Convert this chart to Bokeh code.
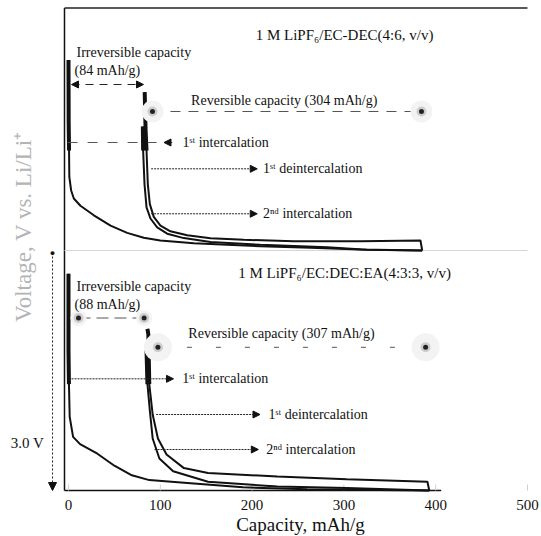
import numpy as np
from bokeh.plotting import figure
from bokeh.models import Range1d, Label, Arrow, NormalHead
from bokeh.core.properties import value
from bokeh.embed import file_html
from bokeh.resources import INLINE

# ---------------- data ----------------
x_ticks = [0, 100, 200, 300, 400, 500]
x_tick_labels = ["0", "100", "200", "300", "400", "500"]

# Panel A : 1 M LiPF6/EC-DEC (4:6, v/v)
a_title = "1 M LiPF\u2086/EC-DEC(4:6, v/v)"
a_int1_cap = [0, 0.2, 0.6, 0.9, 2.9, 5.8, 13, 27.6, 45.8, 63.9, 82, 100, 136.5, 172.9, 209, 263.6, 318, 385.3]
a_int1_v   = [2.38, 1.6, 1.25, 0.92, 0.75, 0.65, 0.56, 0.44, 0.31, 0.22, 0.16, 0.125, 0.092, 0.071, 0.054, 0.033, 0.013, 0.0]
a_deint1_cap = [83, 84, 85, 86.4, 88.6, 92.9, 100.2, 111, 129.3, 154.7, 191, 245.4, 318, 383.4, 385.3]
a_deint1_v   = [1.98, 1.5, 1.25, 0.83, 0.58, 0.42, 0.31, 0.24, 0.19, 0.154, 0.133, 0.117, 0.117, 0.125, 0.0]
a_int2_cap = [81, 81.3, 82.8, 85, 89.3, 96.6, 107.5, 125.6, 154.7, 209, 281.8, 325, 385.3]
a_int2_v   = [1.55, 1.25, 0.83, 0.54, 0.40, 0.29, 0.21, 0.155, 0.105, 0.071, 0.042, 0.008, 0.0]
a_irr = 84
a_rev = 304

# Panel B : 1 M LiPF6/EC:DEC:EA (4:3:3, v/v)
b_title = "1 M LiPF\u2086/EC:DEC:EA(4:3:3, v/v)"
b_int1_cap = [0, 0, 0.5, 1.3, 5, 12.6, 31.5, 50, 69, 88, 133, 190, 260, 393]
b_int1_v   = [2.71, 1.75, 1.33, 0.92, 0.67, 0.58, 0.46, 0.31, 0.19, 0.13, 0.09, 0.04, 0.015, 0.0]
b_deint1_cap = [86, 87, 88, 91.7, 97.4, 106.8, 125.7, 152, 227.5, 303, 391, 393]
b_deint1_v   = [2.02, 1.95, 1.33, 0.95, 0.65, 0.45, 0.28, 0.22, 0.175, 0.14, 0.11, 0.0]
b_int2_cap = [85, 86, 88.7, 91.7, 99, 114, 152, 227.5, 303, 393]
b_int2_v   = [1.75, 1.33, 0.99, 0.65, 0.40, 0.24, 0.11, 0.05, 0.03, 0.0]
b_irr = 88
b_rev = 307

# ---------------- layout constants ----------------
TOP = 3.0            # vertical offset of the upper panel (V)
X0 = -4.36           # where the left axis line sits (capacity units)
X_LINE_END = 406     # the drawn bottom axis line stops just past 400
Y_TOPLINE = 6.03
FONT = "Liberation Serif"
INK = "#111111"

# the frame fills the whole canvas: 541 px <-> 589.3 mAh/g, 536 px <-> 6.7 V
p = figure(width=541, height=536, output_backend="svg", toolbar_location=None,
           x_range=Range1d(-74.07, 515.25), y_range=Range1d(-0.575, 6.125),
           min_border=0, min_border_left=0, min_border_right=0,
           min_border_top=0, min_border_bottom=0)
p.outline_line_color = None
p.grid.visible = False
p.background_fill_color = "white"
p.border_fill_color = "white"
p.xaxis.visible = False
p.yaxis.visible = False

# axis lines, top border, panel separator
p.segment(x0=[X0], y0=[0], x1=[X0], y1=[Y_TOPLINE], line_color=INK, line_width=1.5)
p.segment(x0=[X0], y0=[0], x1=[X_LINE_END], y1=[0], line_color=INK, line_width=1.5)
p.segment(x0=[X0], y0=[Y_TOPLINE], x1=[x_ticks[-1]], y1=[Y_TOPLINE], line_color="#222222", line_width=1.5)
p.segment(x0=[X0], y0=[TOP], x1=[x_ticks[-1]], y1=[TOP], line_color="#d6d6d6", line_width=1)

# x ticks (faint, inward) and tick labels
p.segment(x0=x_ticks, y0=[0] * len(x_ticks), x1=x_ticks, y1=[0.075] * len(x_ticks),
          line_color="#cfcfcf", line_width=1)
p.text(x=x_ticks, y=[-0.175] * len(x_ticks), text=x_tick_labels,
       text_font=value(FONT), text_font_size="15px", text_color=INK,
       text_align="center", text_baseline="middle")


def curve(cap, v, off):
    cap = np.asarray(cap, float)
    v = np.asarray(v, float)
    p.line(cap, v + off, line_color=INK, line_width=2)
    m = v >= 1.2
    if m.sum() > 1:
        p.line(cap[m], v[m] + off, line_color=INK, line_width=4)


for (c, v) in [(a_int1_cap, a_int1_v), (a_deint1_cap, a_deint1_v), (a_int2_cap, a_int2_v)]:
    curve(c, v, TOP)
for (c, v) in [(b_int1_cap, b_int1_v), (b_deint1_cap, b_deint1_v), (b_int2_cap, b_int2_v)]:
    curve(c, v, 0.0)


def txt(x, y, s, size=14, align="left", baseline="middle", color=INK, angle=0.0):
    p.add_layout(Label(x=x, y=y, text=s, text_font=FONT, text_font_size=f"{size}px",
                       text_align=align, text_baseline=baseline, text_color=color,
                       angle=angle))


def arrow(x0, x1, y0, y1, dash, end=True, start=False, size=7, color="#222222", width=1):
    def head():
        return NormalHead(size=size, fill_color="#111111", line_color="#111111", line_width=1)
    p.add_layout(Arrow(x_start=x0, y_start=y0, x_end=x1, y_end=y1,
                       line_dash=dash, line_width=width, line_color=color,
                       end=head() if end else None, start=head() if start else None))


def blur_dot(xs, ys, halo=22):
    p.scatter(xs, ys, size=halo, fill_color="#f3f3f3", line_color=None)
    p.scatter(xs, ys, size=10, fill_color="#a0a0a0", fill_alpha=0.45, line_color=None)
    p.scatter(xs, ys, size=5, fill_color="#222222", line_color=None)


# ---------- panel A annotations ----------
txt(300.7, 5.69, a_title, size=15, align="center")
txt(8.7, 5.475, "Irreversible capacity")
txt(6.5, 5.25, f"({a_irr} mAh/g)")
arrow(3.3, 81.7, 5.075, 5.075, "8 6", end=True, start=True, size=7)
txt(235, 4.875, f"Reversible capacity ({a_rev} mAh/g)", align="center")
p.segment(x0=[91.5], y0=[4.7375], x1=[384.5], y1=[4.7375], line_color="#555555",
          line_width=1, line_dash="10 8")
blur_dot([91.5, 384.5], [4.7375, 4.7375], halo=22)
p.segment(x0=[-1], y0=[4.35], x1=[96], y1=[4.35], line_color="#555555",
          line_width=1, line_dash="10 10")
arrow(113, 104, 4.35, 4.35, "solid", size=7)
txt(124.2, 4.35, "1\u02e2\u1d57 intercalation")
arrow(90, 205.6, 4.021, 4.021, "2 1", size=7)
txt(212, 4.021, "1\u02e2\u1d57 deintercalation")
arrow(90, 205.6, 3.459, 3.459, "2 1", size=7)
txt(212, 3.459, "2\u207f\u1d48 intercalation")

# ---------- panel B annotations ----------
txt(300.7, 2.72, b_title, size=15, align="center")
txt(8.7, 2.55, "Irreversible capacity")
txt(6.5, 2.33, f"({b_irr} mAh/g)")
p.segment(x0=[10.9], y0=[2.156], x1=[82.4], y1=[2.156], line_color="#555555",
          line_width=1, line_dash="12 6")
blur_dot([10.9, 82.4], [2.156, 2.156], halo=16)
txt(232, 1.959, f"Reversible capacity ({b_rev} mAh/g)", align="center")
p.segment(x0=[97.4], y0=[1.79], x1=[389], y1=[1.79], line_color="#555555",
          line_width=1, line_dash="5 24")
blur_dot([97.4, 389], [1.79, 1.79], halo=28)
arrow(3.3, 114.4, 1.396, 1.396, "2 1", size=7)
txt(123.9, 1.396, "1\u02e2\u1d57 intercalation")
arrow(95.5, 208.6, 0.95, 0.95, "2 1", size=7)
txt(217.9, 0.95, "1\u02e2\u1d57 deintercalation")
arrow(93.7, 206.8, 0.5125, 0.5125, "2 1", size=7)
txt(215.4, 0.5125, "2\u207f\u1d48 intercalation")

# ---------- left and bottom texts ----------
arrow(-17.4, -17.4, 2.975, 0.0, "2 2", size=8)
txt(-17.4, 2.975, "\u25cf", size=9, align="center")
txt(-44.7, 0.6, "3.0 V", size=15, align="center")
txt(-48.5, 3.3, "Voltage, V vs. Li/Li\u207a", size=23, align="center",
    color="#b4b4b4", angle=np.pi / 2)
txt(252.7, -0.425, "Capacity, mAh/g", size=19, align="center", baseline="alphabetic")

open("out.html", "w").write(file_html(p, INLINE))
